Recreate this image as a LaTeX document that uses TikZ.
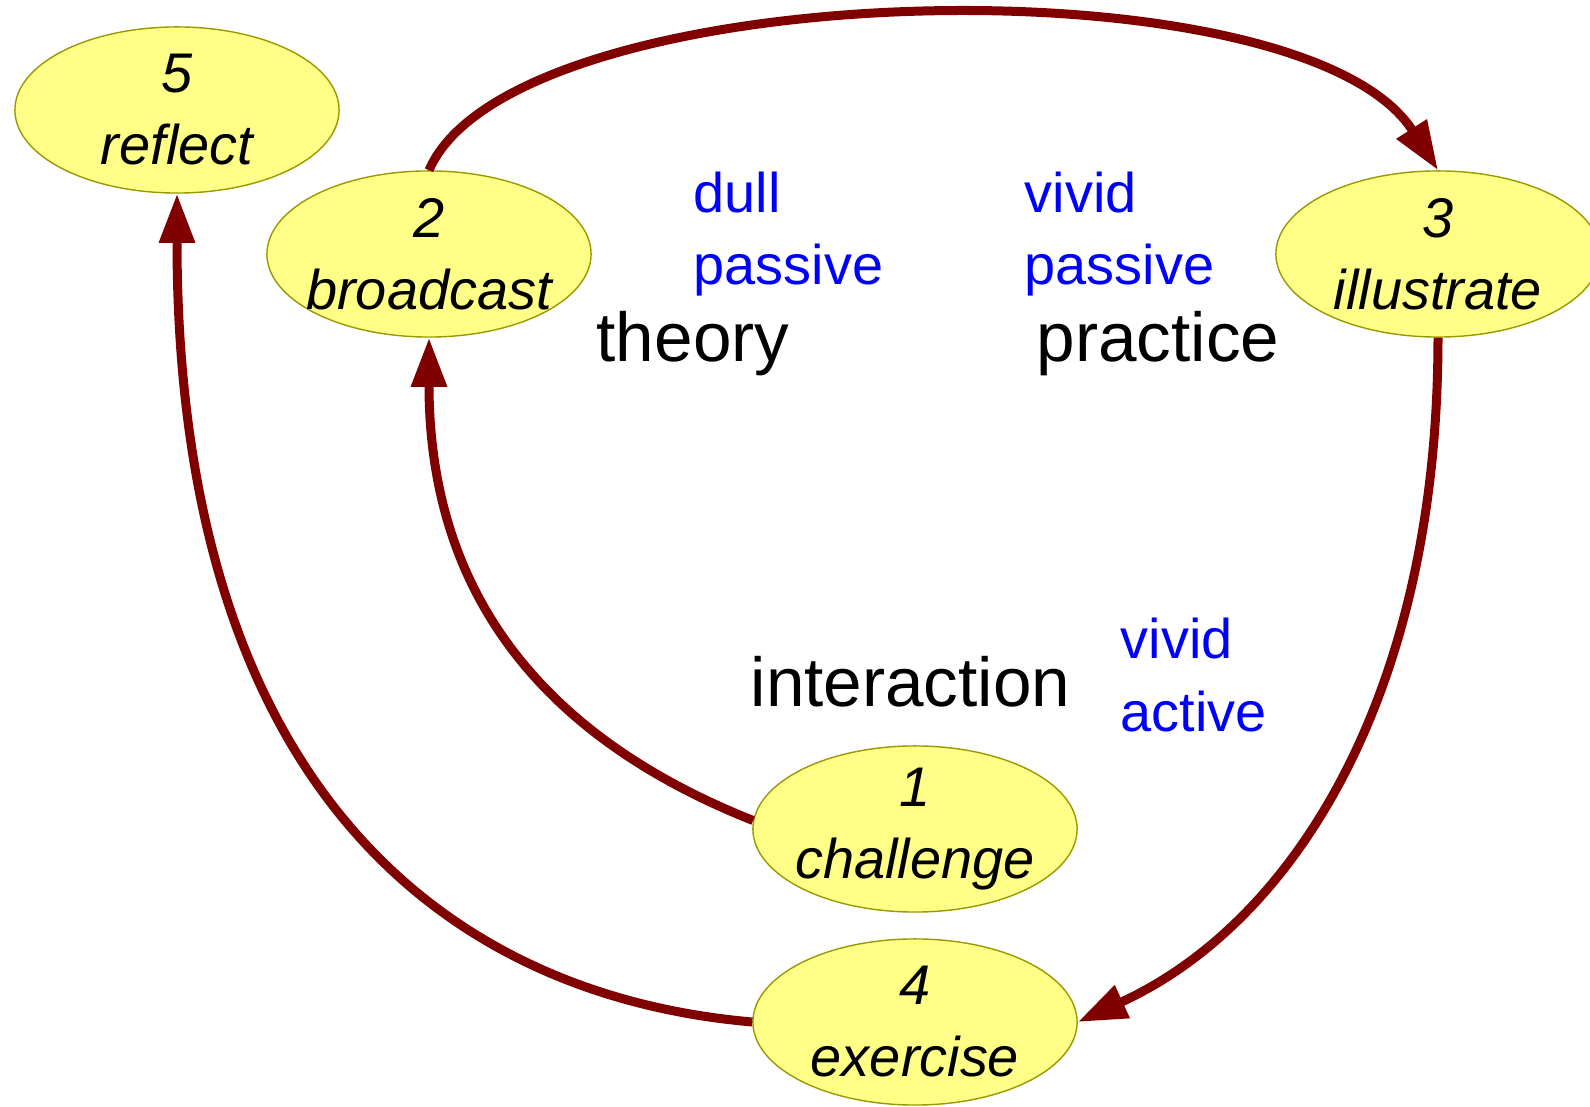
\documentclass[tikz,border=0pt]{standalone}
\usepackage{fontspec}
\setmainfont{Liberation Sans}
\usetikzlibrary{arrows.meta,shapes.geometric}
\definecolor{stagefill}{RGB}{255,255,136}
\definecolor{stageline}{RGB}{153,153,0}
\definecolor{flowred}{RGB}{128,0,0}
\definecolor{noteblue}{RGB}{0,0,255}

\begin{document}
\begin{tikzpicture}[x=0.01cm,y=-0.01cm,>={Triangle[length=0.49cm,width=0.34cm]},
                    stage/.style={ellipse,draw=stageline,fill=stagefill,line width=0.4pt,
                      minimum width=3.24cm,minimum height=1.66cm,inner sep=-0.15cm,align=center,
                      font=\fontsize{15.9}{20.5}\selectfont\itshape},
                    flow/.style={->,draw=flowred,line width=0.09cm},
                    note/.style={anchor=base west,inner sep=0pt,text=noteblue,
                      font=\fontsize{15.9}{19}\selectfont},
                    topic/.style={anchor=base west,inner sep=0pt,
                      font=\fontsize{19.7}{24}\selectfont}]
  \useasboundingbox (0,0) rectangle (1590,1107);

  \node[stage] (n5) at (177,110)  {5\\reflect};
  \node[stage] (n2) at (429,254)  {2\\broadcast};
  \node[stage] (n3) at (1438,254) {3\\illustrate};
  \node[stage] (n1) at (915,829)  {1\\challenge};
  \node[stage] (n4) at (915,1022) {4\\exercise};

  % labels between the stages
  \node[note]  (dull)     at (693,213)  {dull};
  \node[note]  (passiveA) at (693,285)  {passive};
  \node[topic] (theory)   at (596,362)  {theory};
  \node[note]  (vividA)   at (1024,213) {vivid};
  \node[note]  (passiveB) at (1024,285) {passive};
  \node[topic] (practice) at (1036,362) {practice};
  \node[topic] (interact) at (750,707)  {interaction};
  \node[note]  (vividB)   at (1120,659) {vivid};
  \node[note]  (active)   at (1120,732) {active};

  \draw[flow] (n2.north) .. controls (513,-25) and (1300,-45) .. (n3.north);
  \draw[flow] (n3.south) .. controls (1438,700) and (1290,925) .. (n4.east);
  \draw[flow] (n1.177) .. controls (573,749) and (429,620) .. (n2.south);
  \draw[flow] (n4.west) .. controls (453,996) and (177,795) .. (n5.south);
\end{tikzpicture}
\end{document}
